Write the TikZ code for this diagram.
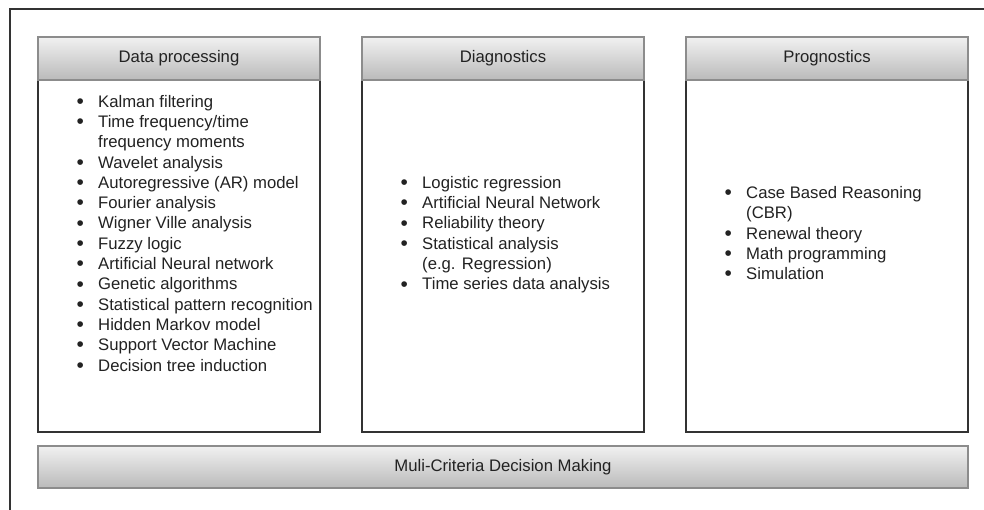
\documentclass[tikz,border=0pt]{standalone}
\usepackage{fontspec}
\setmainfont{Liberation Sans}
\usepackage{tikz}
\usetikzlibrary{positioning}
\definecolor{frameline}{RGB}{51,51,51}
\definecolor{headtop}{RGB}{241,241,241}
\definecolor{headbot}{RGB}{186,186,186}
\definecolor{headline}{RGB}{140,140,140}
\definecolor{txtgray}{RGB}{34,34,34}
\newcommand{\bul}{\makebox[36pt]{\raisebox{-1.2pt}{\scalebox{1.25}{•}}}}
\newcommand{\cont}{\hspace*{36pt}}
\tikzset{
    headbox/.style={rectangle, draw=headline, line width=1.2pt, top color=headtop, bottom color=headbot,
        minimum width=282pt, minimum height=43pt, inner sep=0pt, outer sep=0pt, text=txtgray},
    bodybox/.style={rectangle, draw=frameline, line width=1.5pt, fill=white,
        minimum width=282pt, minimum height=352pt, inner sep=0pt, outer sep=0pt},
    itemlist/.style={anchor=west, inner sep=0pt, text=txtgray},
    barbox/.style={headbox, minimum width=930pt, minimum height=42pt}
}

\begin{document}
\begin{tikzpicture}[x=1pt, y=-1pt, every node/.style={font=\fontsize{16.7}{20.3}\selectfont}]
    \useasboundingbox (0,0) rectangle (984,510);
    % outer frame
    \draw[frameline, line width=1.5pt] (10,510) -- (10,9) -- (984,9);

    % columns
    \node[bodybox] (dpbody) at (179,256) {};
    \node[bodybox, right=42pt of dpbody] (diagbody) {};
    \node[bodybox, right=42pt of diagbody] (progbody) {};
    \node[headbox, above=0pt of dpbody] (dphead) {Data processing};
    \node[headbox, above=0pt of diagbody] (diaghead) {Diagnostics};
    \node[headbox, above=0pt of progbody] (proghead) {Prognostics};

    % method lists
    \node[itemlist] (dplist) at ([xshift=24pt, yshift=21pt]dpbody.west) {%
        \begin{tabular}{@{}l@{}}
            \bul Kalman filtering\\
            \bul Time frequency/time\\
            \cont frequency moments\\
            \bul Wavelet analysis\\
            \bul Autoregressive (AR) model\\
            \bul Fourier analysis\\
            \bul Wigner Ville analysis\\
            \bul Fuzzy logic\\
            \bul Artificial Neural network\\
            \bul Genetic algorithms\\
            \bul Statistical pattern recognition\\
            \bul Hidden Markov model\\
            \bul Support Vector Machine\\
            \bul Decision tree induction
        \end{tabular}};
    \node[itemlist] (diaglist) at ([xshift=24pt, yshift=21pt]diagbody.west) {%
        \begin{tabular}{@{}l@{}}
            \bul Logistic regression\\
            \bul Artificial Neural Network\\
            \bul Reliability theory\\
            \bul Statistical analysis\\
            \cont (e.g. Regression)\\
            \bul Time series data analysis
        \end{tabular}};
    \node[itemlist] (proglist) at ([xshift=24pt, yshift=21pt]progbody.west) {%
        \begin{tabular}{@{}l@{}}
            \bul Case Based Reasoning\\
            \cont (CBR)\\
            \bul Renewal theory\\
            \bul Math programming\\
            \bul Simulation
        \end{tabular}};

    % decision bar
    \node[barbox] (mcdm) at (503,467) {Muli-Criteria Decision Making};
\end{tikzpicture}
\end{document}
